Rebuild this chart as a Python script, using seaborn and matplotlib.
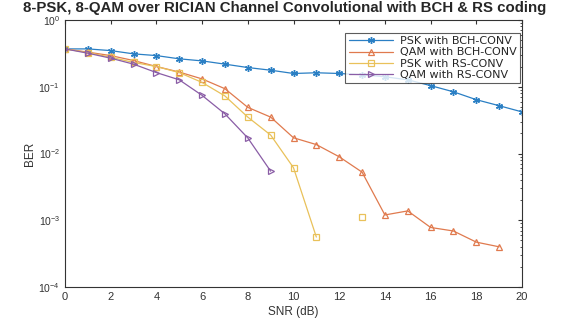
import numpy as np
import pandas as pd
import matplotlib
matplotlib.use("Agg")
import matplotlib.pyplot as plt
import seaborn as sns
from matplotlib.ticker import LogLocator, NullFormatter

snr = list(range(0, 21))
psk_bch = [0.369, 0.369, 0.348, 0.311, 0.293, 0.262, 0.244, 0.218, 0.194, 0.177,
           0.158, 0.162, 0.158, 0.151, 0.141, 0.127, 0.104, 0.084, 0.064, 0.052, 0.042]
qam_bch = [0.369, 0.330, 0.293, 0.247, 0.201, 0.166, 0.131, 0.0934, 0.0491, 0.0351,
           0.0172, 0.0136, 0.00893, 0.00526, 0.00120, 0.00138, 0.00078, 0.00069,
           0.00047, 0.00040, np.nan]
psk_rs = [0.369, 0.325, 0.277, 0.231, 0.201, 0.163, 0.116, 0.0727, 0.0351, 0.0189,
          0.00612, 0.00056, np.nan, 0.00110, np.nan, np.nan, np.nan, np.nan, np.nan,
          np.nan, np.nan]
qam_rs = [0.369, 0.318, 0.268, 0.218, 0.163, 0.127, 0.0742, 0.0392, 0.0171, 0.00544,
          np.nan, np.nan, np.nan, np.nan, np.nan, np.nan, np.nan, np.nan, np.nan,
          np.nan, np.nan]

labels = ["PSK with BCH-CONV", "QAM with BCH-CONV", "PSK with RS-CONV", "QAM with RS-CONV"]
title = "8-PSK, 8-QAM over RICIAN Channel Convolutional with BCH & RS coding"

sns.set_style("white")
plt.rcParams["font.family"] = ["Liberation Sans", "DejaVu Sans"]

fig = plt.figure(figsize=(5.69, 3.24), dpi=100)
ax = fig.add_axes([65/569, 1-287/324, 457/569, 267/324])

colors = ["#2a7fc4", "#e07a4e", "#e9c15a", "#8a5da6"]
markers = [(6, 2, 0), "^", "s", ">"]
series = [psk_bch, qam_bch, psk_rs, qam_rs]

for i, (vals, lab, col, mk) in enumerate(zip(series, labels, colors, markers)):
    df = pd.DataFrame({"snr": snr, "ber": vals})
    df["grp"] = df["ber"].isna().cumsum()
    df = df.dropna()
    first = True
    for _, seg in df.groupby("grp"):
        kw = dict(markerfacecolor="none", markeredgecolor=col,
                  markersize=5, markeredgewidth=1.0 if i == 0 else 0.9)
        sns.lineplot(data=seg, x="snr", y="ber", ax=ax, color=col, marker=mk,
                     linewidth=0.9, estimator=None, sort=False,
                     label=lab if first else None, legend=False, **kw)
        first = False

ax.set_yscale("log")
ax.set_xlim(0, 20)
ax.set_ylim(1e-4, 1)
ax.set_xticks(range(0, 21, 2))
ax.yaxis.set_major_locator(LogLocator(base=10, numticks=10))
ax.yaxis.set_minor_locator(LogLocator(base=10, subs=np.arange(2, 10), numticks=10))
ax.yaxis.set_minor_formatter(NullFormatter())
ax.tick_params(axis="both", which="both", direction="in", top=True, right=True,
               labelsize=8, colors="#333333")
ax.tick_params(axis="y", labelsize=7.5)
ax.tick_params(which="major", length=3)
ax.tick_params(which="minor", length=1.5)
for s in ax.spines.values():
    s.set_color("#333333")
    s.set_linewidth(0.8)

ax.set_xlabel("SNR (dB)", fontsize=8.5, color="#333333", labelpad=3)
ax.set_ylabel("BER", fontsize=8.5, color="#333333", labelpad=2)
fig.text(0.5, 1 - 8/324, title, fontsize=10.8, fontweight="bold",
         ha="center", va="center")

handles, labs = ax.get_legend_handles_labels()
leg = ax.legend(handles, labs, loc="upper right",
                prop={"family": "DejaVu Sans", "size": 8}, frameon=True,
                fancybox=False, edgecolor="#333333", borderpad=0.3, labelspacing=0.1,
                handlelength=4.0, handletextpad=0.6, borderaxespad=0,
                bbox_to_anchor=((520 - 65) / 457, 1 - (33 - 20) / 267))
leg.get_frame().set_linewidth(0.8)

fig.savefig("out.png", dpi=100)
